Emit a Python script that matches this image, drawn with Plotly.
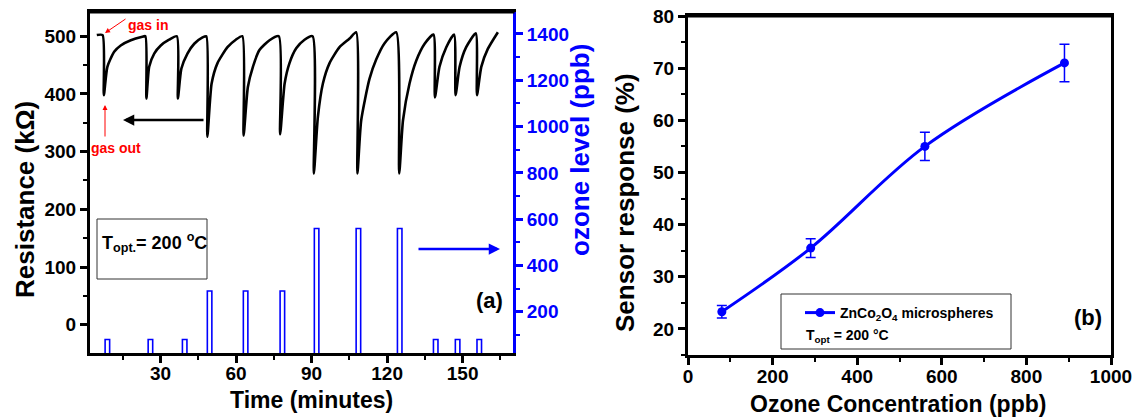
import plotly.graph_objects as go

# ---------------- Panel (a): resistance transient & ozone pulses ----------------
time_min = [4.7, 7.0, 7.5, 8.9, 11.6, 14.2, 18.2, 22.8, 24.0,
            24.4, 25.5, 27.5, 30.1, 33.4, 36.5,
            36.9, 38.3, 40.7, 43.4, 46.7, 48.2,
            48.6, 50.3, 52.6, 56.6, 59.9, 62.5,
            63.0, 64.7, 66.7, 69.3, 73.3, 77.0,
            77.5, 79.3, 81.2, 83.9, 87.2, 90.4,
            90.9, 92.5, 94.5, 97.1, 101.1, 105.1, 107.7,
            108.2, 109.7, 113.0, 115.7, 119.0, 123.6,
            124.8, 126.3, 128.9, 131.6, 134.9, 138.4,
            139.0, 140.8, 143.5, 146.6,
            147.2, 148.8, 151.4, 155.2,
            155.7, 157.4, 160.0, 164.0]
resistance_kohm = [502, 502, 398, 447, 473, 484, 493, 499, 500,
                   392, 447, 470, 484, 494, 500,
                   392, 444, 470, 487, 498, 500,
                   326, 418, 453, 481, 494, 500,
                   328, 412, 447, 476, 493, 500,
                   330, 418, 453, 479, 494, 500,
                   262, 360, 418, 453, 481, 496, 507,
                   262, 354, 426, 460, 488, 507,
                   262, 354, 418, 458, 487, 503,
                   394, 447, 481, 503,
                   398, 447, 481, 505,
                   398, 447, 478, 507]

pulse_center_min = [8.9, 26.0, 39.6, 49.5, 63.8, 78.4, 92.0, 108.6, 125.0, 139.3, 148.0, 156.6]
pulse_ozone_ppb = [80, 80, 80, 290, 290, 290, 560, 560, 560, 80, 80, 80]
pulse_width_min = 1.8

# ---------------- Panel (b): sensor response vs concentration ----------------
ozone_ppb = [80, 290, 560, 890]
response_pct = [23.3, 35.5, 55.0, 71.0]
response_err = [1.2, 1.8, 2.7, 3.6]

W, H = 1141, 418
def fx(px):
    return px / W
def fy(py):
    return 1 - py / H

FONT = "Liberation Sans"
BLUE = "#0000ff"

# ozone pulse outlines
ox, oy = [], []
for c, h in zip(pulse_center_min, pulse_ozone_ppb):
    a, b = c - pulse_width_min / 2, c + pulse_width_min / 2
    ox += [a, a, b, b, None]
    oy += [0, h, h, 0, None]

fig = go.Figure()
fig.add_trace(go.Scatter(x=time_min, y=resistance_kohm, mode="lines",
                         line=dict(color="black", width=2.6, shape="spline", smoothing=0.6),
                         xaxis="x", yaxis="y", showlegend=False, hoverinfo="skip"))
fig.add_trace(go.Scatter(x=ox, y=oy, mode="lines",
                         line=dict(color=BLUE, width=1.6),
                         xaxis="x", yaxis="y2", showlegend=False, hoverinfo="skip"))
fig.add_trace(go.Scatter(x=ozone_ppb, y=response_pct, mode="lines+markers",
                         name="ZnCo<sub>2</sub>O<sub>4</sub> microspheres",
                         line=dict(color=BLUE, width=3, shape="spline", smoothing=1),
                         marker=dict(color=BLUE, size=9),
                         error_y=dict(type="data", array=response_err, color=BLUE,
                                      thickness=1.5, width=5),
                         xaxis="x2", yaxis="y3", showlegend=True, hoverinfo="skip"))

tickfont = dict(family=FONT, size=19, color="black", weight="bold")
common = dict(showline=True, linewidth=3, ticks="outside", ticklen=7, tickwidth=2.5,
              showgrid=False, zeroline=False, tickfont=tickfont, automargin=False)

fig.update_layout(
    template="none",
    width=W, height=H, autosize=False,
    margin=dict(l=0, r=0, t=0, b=0, pad=0, autoexpand=False),
    paper_bgcolor="white", plot_bgcolor="white",
    font=dict(family=FONT),
    xaxis=dict(domain=[fx(90), fx(513)], range=[2, 170], anchor="y",
               linecolor="black", tickcolor="black", mirror=True,
               tick0=0, dtick=30, ticklabelstandoff=-6,
               minor=dict(dtick=15, ticks="outside", ticklen=4, tickwidth=2, tickcolor="black"),
               **common),
    yaxis=dict(domain=[fy(353), fy(12)], range=[-49, 542], anchor="x",
               linecolor="black", tickcolor="black", mirror=False,
               tick0=0, dtick=100,
               minor=dict(dtick=50, ticks="outside", ticklen=4, tickwidth=2, tickcolor="black"),
               **common),
    yaxis2=dict(overlaying="y", side="right", anchor="x", range=[22, 1495],
                showline=True, linewidth=3, linecolor=BLUE, ticks="outside", ticklen=7,
                tickwidth=2.5, tickcolor=BLUE, showgrid=False, zeroline=False, automargin=False,
                tick0=0, dtick=200,
                tickfont=dict(family=FONT, size=19, color=BLUE, weight="bold"),
                minor=dict(dtick=100, ticks="outside", ticklen=4, tickwidth=2, tickcolor=BLUE)),
    xaxis2=dict(domain=[fx(688), fx(1111)], range=[0, 1000], anchor="y3",
                linecolor="black", tickcolor="black", mirror=True,
                tick0=0, dtick=200, ticklabelstandoff=-5,
                minor=dict(dtick=100, ticks="outside", ticklen=4, tickwidth=2, tickcolor="black"),
                **common),
    yaxis3=dict(domain=[fy(355), fy(16)], range=[15, 80], anchor="x2",
                linecolor="black", tickcolor="black", mirror=True,
                tick0=0, dtick=10,
                minor=dict(dtick=5, ticks="outside", ticklen=4, tickwidth=2, tickcolor="black"),
                **common),
    legend=dict(x=fx(800), y=fy(297), xanchor="left", yanchor="top",
                bgcolor="rgba(0,0,0,0)", borderwidth=0,
                font=dict(family=FONT, size=14, color="black", weight="bold")),
)

shapes = [
    # top frame lines of both panels
    dict(type="line", xref="paper", yref="paper", x0=fx(88.5), x1=fx(514.5), y0=fy(12), y1=fy(12),
         line=dict(color="black", width=3)),
    dict(type="line", xref="paper", yref="paper", x0=fx(686.5), x1=fx(1112.5), y0=fy(16), y1=fy(16),
         line=dict(color="black", width=3)),
    dict(type="rect", xref="paper", yref="paper", x0=fx(97), x1=fx(207), y0=fy(279), y1=fy(219),
         line=dict(color="#333333", width=1)),
    dict(type="rect", xref="paper", yref="paper", x0=fx(781), x1=fx(1011), y0=fy(349), y1=fy(294),
         line=dict(color="#333333", width=1)),
]
fig.update_layout(shapes=shapes)

def txt(text, x, y, size, color="black", angle=0, xanchor="center"):
    return dict(text=text, x=fx(x), y=fy(y), xref="paper", yref="paper", showarrow=False,
                textangle=angle, xanchor=xanchor, yanchor="middle",
                font=dict(family=FONT, size=size, color=color))

def arrow(hx, hy, tx, ty, color, width, size=1.0):
    return dict(text="", x=fx(hx), y=fy(hy), xref="paper", yref="paper", showarrow=True,
                ax=tx - hx, ay=ty - hy, axref="pixel", ayref="pixel",
                arrowhead=2, arrowsize=size, arrowwidth=width, arrowcolor=color, standoff=0)

annotations = [
    txt("<b>Resistance (k\u03a9)</b>", 25, 200, 26, angle=-90),
    txt("<b>ozone level (ppb)</b>", 580, 150, 26, color=BLUE, angle=-90),
    txt("<b>Time (minutes)</b>", 311, 400, 23),
    txt("<b>Sensor response (%)</b>", 625, 203, 26, angle=-90),
    txt("<b>Ozone Concentration (ppb)</b>", 898, 404, 23),
    txt("<b>T<sub>opt.</sub>= 200 <sup>o</sup>C</b>", 100, 242, 18, xanchor="left"),
    txt("<b>(a)</b>", 489, 300, 22),
    txt("<b>(b)</b>", 1088, 317, 22),
    txt("<b>T<sub>opt</sub> = 200 \u00b0C</b>", 804, 336, 14, xanchor="left"),
    txt("<b>gas in</b>", 148, 25, 14, color="red"),
    txt("<b>gas out</b>", 116, 148, 14, color="red"),
    arrow(105, 33, 127, 18, "red", 1),
    arrow(105, 105, 105, 138, "red", 1),
    arrow(123, 120, 205, 120, "black", 2.5, 0.9),
    arrow(500, 249, 417, 249, BLUE, 2.5, 0.9),
]
fig.update_layout(annotations=annotations)

fig.write_html("out.html", config={"displayModeBar": False},
               post_script="document.body.style.margin='0px';")
